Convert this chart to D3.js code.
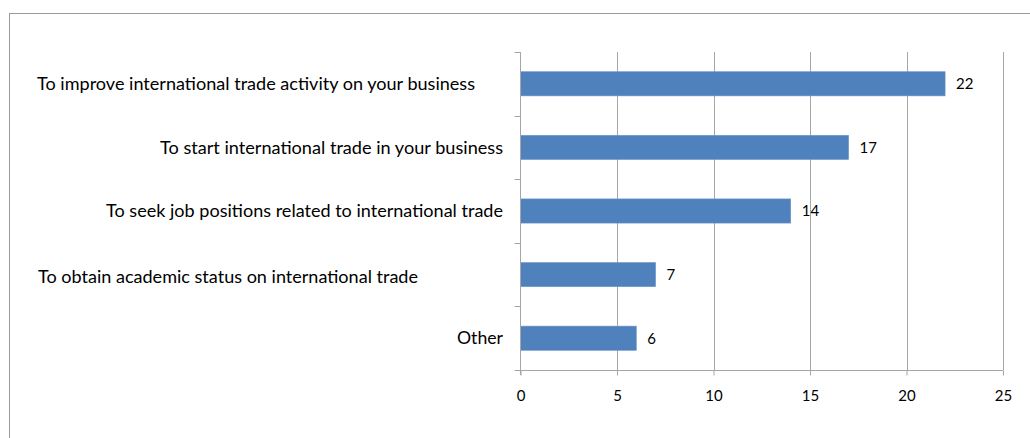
<!DOCTYPE html>
<html>
<head>
<meta charset="utf-8">
<script src="https://cdn.jsdelivr.net/npm/d3@7"></script>
<style>
  html, body { margin: 0; padding: 0; background: #fff; }
  svg { display: block; }
  text { font-family: Lato, "Open Sans", sans-serif; fill: #000; }
</style>
</head>
<body>
<svg id="chart" width="1030" height="438"></svg>
<script>
// Reasons for interest in international trade (number of responses)
const categories = [
  "To improve international trade activity on your business",
  "To start international trade in  your business",
  "To seek job positions related to international trade",
  "To obtain academic status on international trade",
  "Other"
];
const values = [22, 17, 14, 7, 6];
const xTicks = [0, 5, 10, 15, 20, 25];

// Category label placement (right edge and rendered width of each label line)
const labelRight = [475, 503, 503, 418, 503];
const labelWidth = [438, 343, 397, 380, 46];
const labelShift = [0, 0, 0, 2, 0];

const svg = d3.select("#chart");
const plot = { left: 520.5, right: 1003, top: 52, bottom: 370 };
const gridColor = "#a6a6a6";

// chart area frame
svg.append("rect")
  .attr("x", 9.5).attr("y", 13.5)
  .attr("width", 1040).attr("height", 440)
  .attr("fill", "none").attr("stroke", "#9a9a9a").attr("stroke-width", 1);

const x = d3.scaleLinear().domain([0, 25]).range([plot.left, plot.right]);
const y = d3.scaleBand().domain(categories)
  .range([plot.top, plot.bottom])
  .paddingInner(0.62).paddingOuter(0.31);

// vertical gridlines
svg.append("g").selectAll("line")
  .data(xTicks.filter(d => d > 0))
  .join("line")
  .attr("x1", d => Math.round(x(d)) + 0.5).attr("x2", d => Math.round(x(d)) + 0.5)
  .attr("y1", plot.top).attr("y2", plot.bottom)
  .attr("stroke", gridColor).attr("stroke-width", 1);

// bars
svg.append("g").selectAll("rect")
  .data(values)
  .join("rect")
  .attr("x", x(0))
  .attr("y", (d, i) => y(categories[i]))
  .attr("width", d => x(d) - x(0))
  .attr("height", y.bandwidth())
  .attr("fill", "#4f81bd")
  .attr("stroke", "#6d96cc").attr("stroke-width", 0.6);

// value labels
svg.append("g").selectAll("text")
  .data(values)
  .join("text")
  .attr("x", d => x(d) + 11)
  .attr("y", (d, i) => y(categories[i]) + y.bandwidth() / 2)
  .attr("dy", "0.36em")
  .style("font-size", "15px")
  .text(d => d);

// x axis
const xAxis = d3.axisBottom(x).tickValues(xTicks).tickSize(5).tickPadding(15);
const gx = svg.append("g")
  .attr("transform", `translate(0,${plot.bottom + 0.5})`)
  .call(xAxis);
gx.select(".domain").attr("stroke", gridColor).attr("d", `M${plot.left},0H${plot.right}`);
gx.selectAll(".tick line").attr("stroke", gridColor);
gx.selectAll(".tick text")
  .style("font-family", "Lato, 'Open Sans', sans-serif")
  .style("font-size", "15px").attr("fill", "#000");

// y axis: line with ticks at category boundaries
const yAxisG = svg.append("g");
yAxisG.append("line")
  .attr("x1", plot.left).attr("x2", plot.left)
  .attr("y1", plot.top).attr("y2", plot.bottom + 5)
  .attr("stroke", gridColor);
const boundaries = d3.range(categories.length + 1)
  .map(i => plot.top + i * y.step());
yAxisG.selectAll("line.tick")
  .data(boundaries)
  .join("line")
  .attr("class", "tick")
  .attr("x1", plot.left - 6).attr("x2", plot.left)
  .attr("y1", d => Math.round(d) + 0.5).attr("y2", d => Math.round(d) + 0.5)
  .attr("stroke", gridColor);

// category labels
svg.append("g").selectAll("text")
  .data(categories)
  .join("text")
  .attr("x", (d, i) => labelRight[i] - labelWidth[i])
  .attr("y", (d, i) => y(d) + y.bandwidth() / 2 + labelShift[i])
  .attr("dy", "0.36em")
  .attr("textLength", (d, i) => labelWidth[i])
  .attr("lengthAdjust", "spacingAndGlyphs")
  .style("font-size", "17px")
  .text(d => d);
</script>
</body>
</html>
